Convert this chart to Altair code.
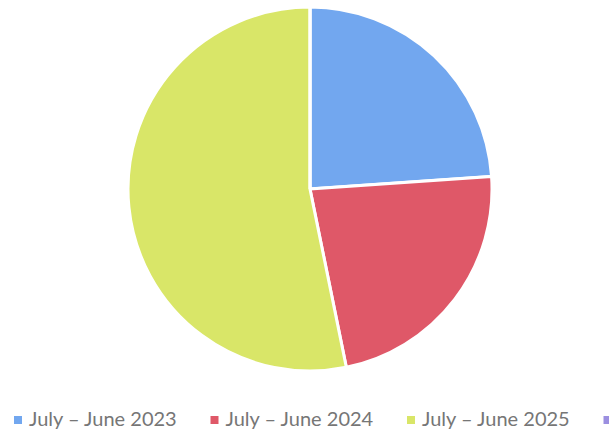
import altair as alt
import pandas as pd

categories = ["July – June 2023", "July – June 2024", "July – June 2025", "July – June 2026"]
values = [23.9, 22.9, 53.2, 0.0]
colors = ["#72a7ef", "#df5868", "#d9e668", "#9b8fe0"]

df = pd.DataFrame({"period": categories, "value": values, "order": list(range(len(categories)))})

chart = alt.Chart(df).mark_arc(
    radius=182, stroke="white", strokeWidth=3
).encode(
    theta=alt.Theta("value:Q", stack=True),
    order=alt.Order("order:Q"),
    color=alt.Color(
        "period:N",
        scale=alt.Scale(domain=categories, range=colors),
        sort=categories,
        legend=alt.Legend(
            title=None, orient="none", direction="horizontal", columns=4,
            legendX=8, legendY=410,
            symbolType="square", symbolSize=64, symbolStrokeWidth=0,
            labelFont="Lato", labelFontSize=20, labelColor="#767676",
            labelLimit=300, columnPadding=26.5, labelOffset=1,
            labelExpr="datum.index == 3 ? '' : datum.label",
        ),
    ),
    x=alt.value(310),
    y=alt.value(189),
).properties(
    width=609, height=431, padding=0, autosize=alt.AutoSizeParams(type="none")
).configure_view(stroke=None)

chart.save("out.html", embed_options={"renderer": "svg", "actions": False})
